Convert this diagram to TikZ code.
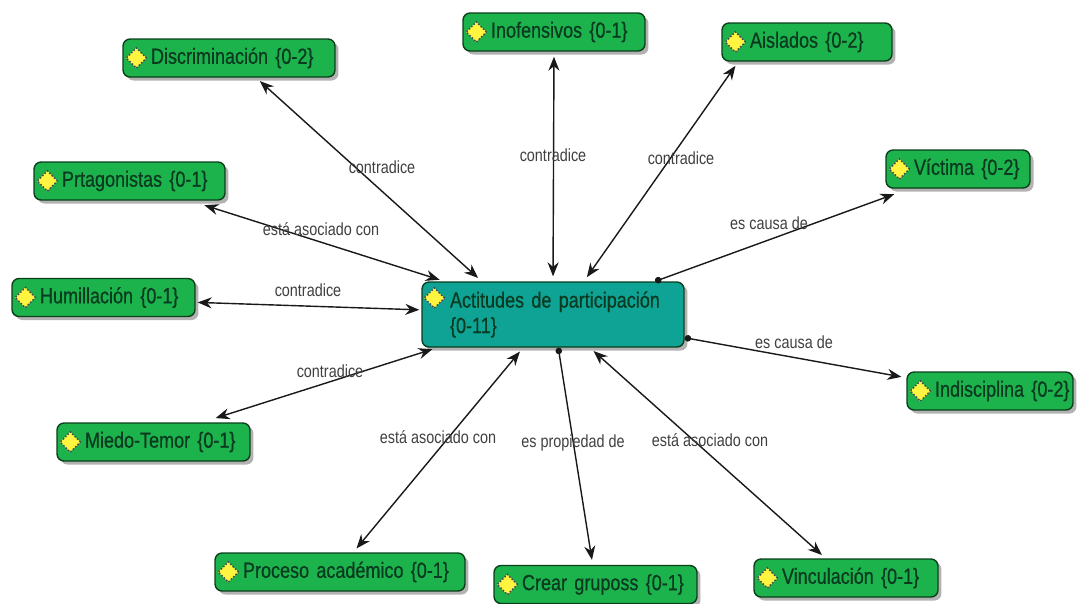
\documentclass[tikz,border=0pt]{standalone}
\usepackage{fontspec}
\setmainfont{Liberation Sans}[FakeStretch=0.82]
\newfontfamily\conceptfont{Liberation Sans}[FakeStretch=0.82,FakeBold=0.6]
\usetikzlibrary{arrows.meta,shadows,shapes.geometric}
\definecolor{conceptgreen}{HTML}{1DB34C}
\definecolor{conceptteal}{HTML}{0FA396}
\definecolor{conceptink}{HTML}{0A3A20}

\begin{document}
\begin{tikzpicture}[x=0.02cm, y=-0.02cm]
	\tikzset{>={Stealth[length=0.28cm,width=0.22cm]}}
	\tikzset{concept/.style={draw=black!65!conceptgreen, line width=0.8pt, fill=conceptgreen, rounded corners=0.14cm, text=conceptink,
		font=\conceptfont\fontsize{12.5}{14.5}\selectfont, text width=#1, inner xsep=0.2cm, inner ysep=0pt, minimum height=0.76cm, align=left,
		execute at begin node={\leftskip=0.36cm},
		drop shadow={shadow xshift=0.07cm, shadow yshift=-0.07cm, fill=black!60}}}
	\tikzset{icon/.style={diamond, draw=black!70, line width=0.9pt, densely dotted, fill=yellow!75, minimum size=0.42cm, inner sep=0pt}}
	\tikzset{relation/.style={line width=0.8pt, black!90}}
	\tikzset{both/.style={relation, <->, shorten <=0.1cm, shorten >=0.1cm}}
	\tikzset{dotted end/.style={relation, {Circle[length=0.13cm]}->, shorten >=0.1cm}}
	\tikzset{linking/.style={font=\fontsize{10}{12}\selectfont, text=black!75, inner sep=0pt}}
	\useasboundingbox (0, 0) rectangle (1088, 603);

	% concepts
	\node[concept=3.84cm] (disc) at (229, 58) {Discriminación \{0-2\}};
	\node[concept=3.24cm] (inof) at (554, 32) {Inofensivos \{0-1\}};
	\node[concept=3.00cm] (aisl) at (807, 42) {Aislados \{0-2\}};
	\node[concept=2.48cm] (vict) at (958, 169) {Víctima \{0-2\}};
	\node[concept=3.42cm] (prta) at (129.5, 181) {Prtagonistas \{0-1\}};
	\node[concept=3.26cm] (humi) at (103.5, 297.5) {Humillación \{0-1\}};
	\node[concept=3.46cm] (mied) at (153.5, 442) {Miedo-Temor \{0-1\}};
	\node[concept=4.60cm] (proc) at (340, 572) {Proceso académico \{0-1\}};
	\node[concept=3.66cm] (crea) at (595.5, 584.5) {Crear gruposs \{0-1\}};
	\node[concept=3.28cm] (vinc) at (846, 578) {Vinculación \{0-1\}};
	\node[concept=2.92cm] (indi) at (990, 391) {\mbox{Indisciplina \{0-2\}}};
	\node[concept=4.84cm, fill=conceptteal, minimum height=1.3cm] (acti) at (553, 314.5) {Actitudes de participación\\\{0-11\}};

	% icons
	\node[icon] (idisc) at ([xshift=0.28cm]disc.west) {};
	\node[icon] (iinof) at ([xshift=0.28cm]inof.west) {};
	\node[icon] (iaisl) at ([xshift=0.28cm]aisl.west) {};
	\node[icon] (ivict) at ([xshift=0.28cm]vict.west) {};
	\node[icon] (iprta) at ([xshift=0.28cm]prta.west) {};
	\node[icon] (ihumi) at ([xshift=0.28cm]humi.west) {};
	\node[icon] (imied) at ([xshift=0.28cm]mied.west) {};
	\node[icon] (iproc) at ([xshift=0.28cm]proc.west) {};
	\node[icon] (icrea) at ([xshift=0.28cm]crea.west) {};
	\node[icon] (ivinc) at ([xshift=0.28cm]vinc.west) {};
	\node[icon] (iindi) at ([xshift=0.28cm]indi.west) {};
	\node[icon] (iacti) at ([shift={(0.26cm,0.33cm)}]acti.west) {};

	% connectors
	\draw[both] (disc.324) -- (acti.155);
	\draw[both] (inof.270) -- (acti.90);
	\draw[both] (aisl.196) -- (acti.47);
	\draw[both, shorten <=0.3cm] (prta.342) -- (acti.163.8);
	\draw[both, shorten <=0.04cm, shorten >=0.04cm] (humi.357) -- (acti.178);
	\draw[both, shorten <=0.28cm] (mied.22) -- (acti.196);
	\draw[both] (proc.56) -- (acti.228);
	\draw[both] (vinc.136) -- (acti.318);
	\draw[dotted end, shorten >=0.32cm] (acti.18.7) -- (vict.202);
	\draw[dotted end] (acti.279) -- (crea.98);
	\draw[dotted end] (acti.350) -- (indi.171);

	% linking words
	\node[linking] (l1) at (382, 167) {contradice};
	\node[linking] (l2) at (553, 155) {contradice};
	\node[linking] (l3) at (681, 158) {contradice};
	\node[linking] (l4) at (769, 223) {es causa de};
	\node[linking] (l5) at (321, 229) {está asociado con};
	\node[linking] (l6) at (308, 290) {contradice};
	\node[linking] (l7) at (330, 371) {contradice};
	\node[linking] (l8) at (794, 342) {es causa de};
	\node[linking] (l9) at (438, 437) {está asociado con};
	\node[linking] (l10) at (573, 443) {es propiedad de};
	\node[linking] (l11) at (710, 440) {está asociado con};
\end{tikzpicture}
\end{document}
